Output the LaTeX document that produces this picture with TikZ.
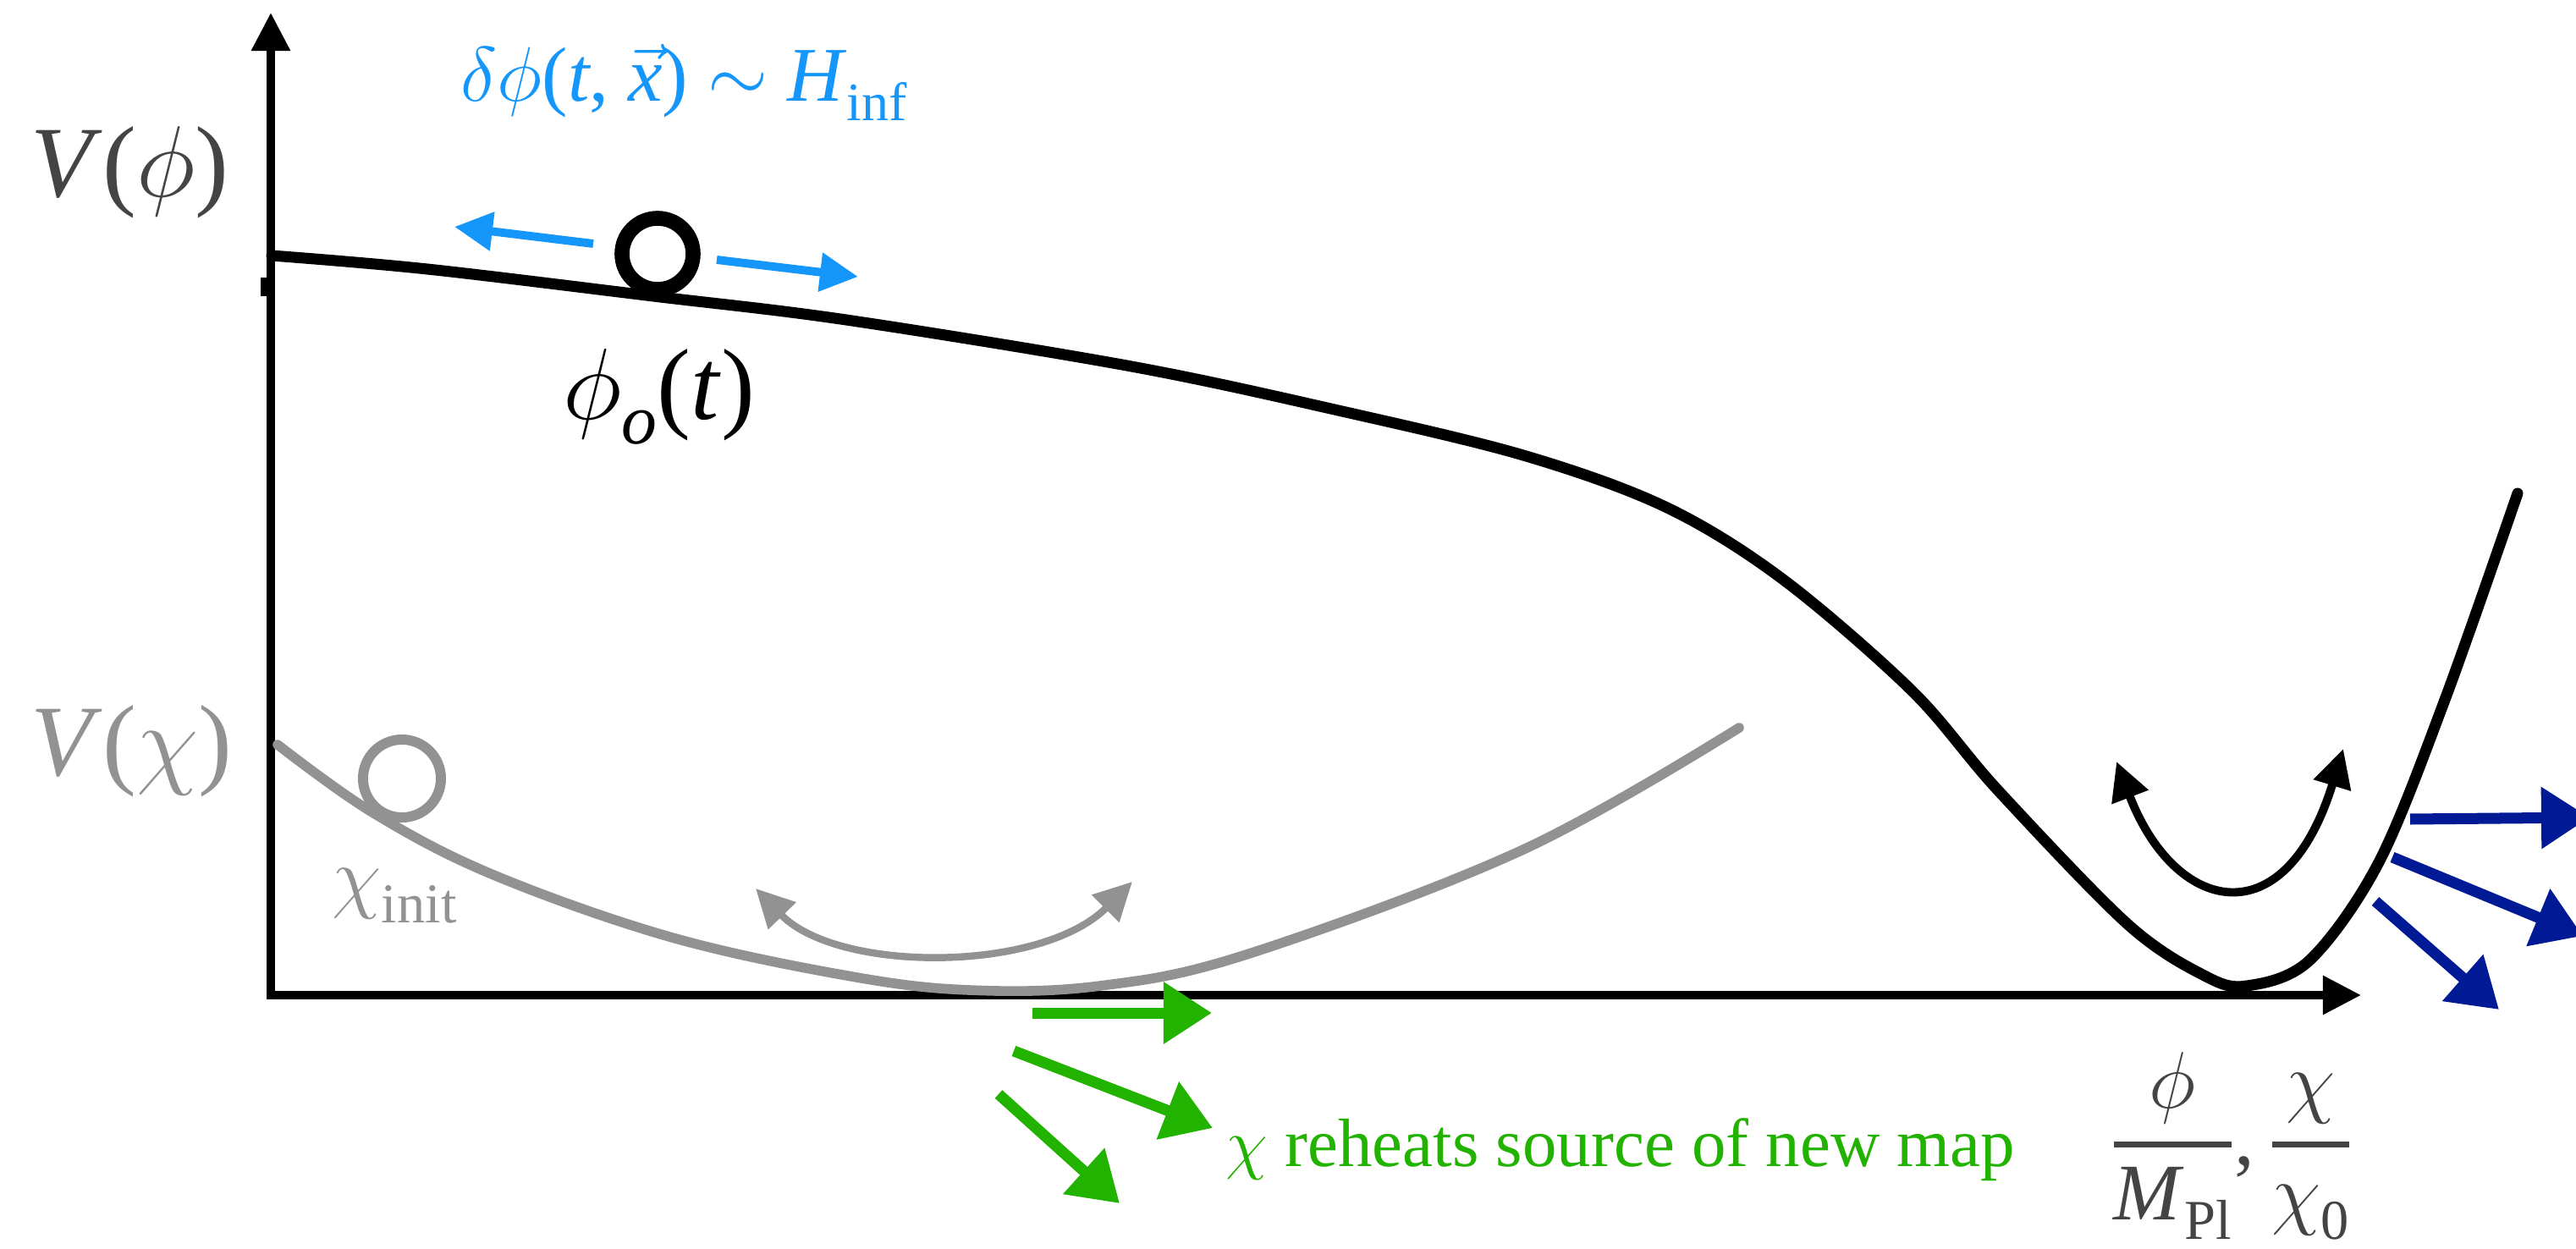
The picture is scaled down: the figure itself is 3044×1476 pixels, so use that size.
\RequirePackage{fix-cm}
\documentclass[tikz,border=0pt]{standalone}
\usepackage{amsmath}
\usepackage{graphicx}
\usepackage{fontspec}
\setmainfont{Liberation Serif}
\usetikzlibrary{arrows.meta,positioning}
\definecolor{skyblue}{RGB}{20,150,250}
\definecolor{greyc}{RGB}{146,146,146}
\definecolor{darkgrey}{RGB}{68,68,68}
\definecolor{chalkgreen}{RGB}{34,178,0}
\definecolor{chalkblue}{RGB}{0,26,150}
\newcommand\sbs[1]{\raisebox{-0.25em}{\scalebox{0.7}{#1}}}

\begin{document}
\begin{tikzpicture}[x=0.01cm,y=-0.01cm,>={Triangle[length=0.45cm,width=0.44cm]},
  axis/.style={line width=2.6pt,->},
  pot/.style={line width=3.7pt,line cap=round,line join=round},
  ball/.style={circle,draw,inner sep=0pt,minimum size=0.84cm},
  swing/.style={line width=2.8pt,<->},
  kick/.style={line width=2.8pt,->,skyblue},
  chalk/.style={line width=3.7pt,->,>={Triangle[length=0.57cm,width=0.7cm]}},
  every node/.style={inner sep=0pt}]
  \useasboundingbox (0,0) rectangle (3044,1476);
  \coordinate (o) at (320,1180);
  \coordinate (ytip) at (320,15);
  \coordinate (xo) at (315,1176);
  \coordinate (xtip) at (2790,1176);
  \draw[axis] (o) -- (ytip);
  \draw[axis] (xo) -- (xtip);
  \draw[line width=2.6pt] (313,328) -- (313,350);

  \draw[pot,greyc,line width=3.3pt] plot[smooth,tension=0.6] coordinates {(328,880) (440,960) (581,1033) (791,1107) (1001,1153) (1145,1170) (1300,1165) (1476,1127) (1800,1004) (2055,860)};
  \draw[pot] plot[smooth,tension=0.55] coordinates {(321,302) (505,318) (772,350) (1000,378) (1337,433) (1577,484) (1800,538) (1968,599) (2106,684) (2259,816) (2361,934) (2514,1092) (2605,1153) (2655,1165) (2729,1135) (2811,1019) (2889,827) (2975,583)};

  \node[ball,line width=5pt] (ball) at (777,300) {};
  \node[ball,greyc,line width=3.4pt,minimum size=0.92cm] (gball) at (475,920) {};

  \coordinate (kl0) at (701,288);
  \coordinate (kl1) at (537,268);
  \coordinate (kr0) at (847,307);
  \coordinate (kr1) at (1014,327);
  \draw[kick] (kl0) -- (kl1);
  \draw[kick] (kr0) -- (kr1);

  \coordinate (gl) at (893,1050);
  \coordinate (gr) at (1338,1042);
  \draw[swing,greyc,line width=2.4pt] (gl) .. controls (990,1150) and (1230,1150) .. (gr);
  \coordinate (bl) at (2501,900);
  \coordinate (br) at (2769,885);
  \draw[swing] (bl) .. controls (2570,1080) and (2700,1110) .. (br);

  \draw[chalk,chalkgreen] (1220,1197) -- (1432,1197);
  \draw[chalk,chalkgreen] (1198,1242) -- (1433,1333);
  \draw[chalk,chalkgreen] (1180,1293) -- (1323,1422);
  \draw[chalk,chalkblue] (2848,968) -- (3060,966);
  \draw[chalk,chalkblue] (2827,1013) -- (3052,1106);
  \draw[chalk,chalkblue] (2807,1065) -- (2953,1193);

  \node[anchor=base west,darkgrey,font=\fontsize{34}{40}\selectfont] (vphi) at (36,232) {\textit{V}($\phi$)};
  \node[anchor=base west,skyblue,font=\fontsize{26}{30}\selectfont] (dphi) at (544,120) {$\delta\phi$(\textit{t}, $\vec{\text{\textit{x}}}$) $\sim$ \textit{H}\sbs{inf}};
  \node[anchor=base west,font=\fontsize{34}{40}\selectfont] (phio) at (665,495) {$\phi$\sbs{\textit{o}}(\textit{t})};
  \node[anchor=base west,greyc,font=\fontsize{34}{40}\selectfont] (vchi) at (36,916) {\textit{V}($\chi$)};
  \node[anchor=base west,greyc,font=\fontsize{27}{30}\selectfont] (chiinit) at (392,1067) {$\chi$\sbs{init}};
  \node[anchor=base west,chalkgreen,font=\fontsize{23}{28}\selectfont] (reheat) at (1448,1378) {$\chi$ reheats source of new map};
  \node[anchor=base,darkgrey,font=\fontsize{27}{30}\selectfont] (xlab) at (2637,1376) {$\genfrac{}{}{2pt}{0}{\phi}{\text{\textit{M}\sbs{Pl}}}$,\,$\genfrac{}{}{2pt}{0}{\chi}{\text{$\chi$\sbs{0}}}$};
\end{tikzpicture}
\end{document}
